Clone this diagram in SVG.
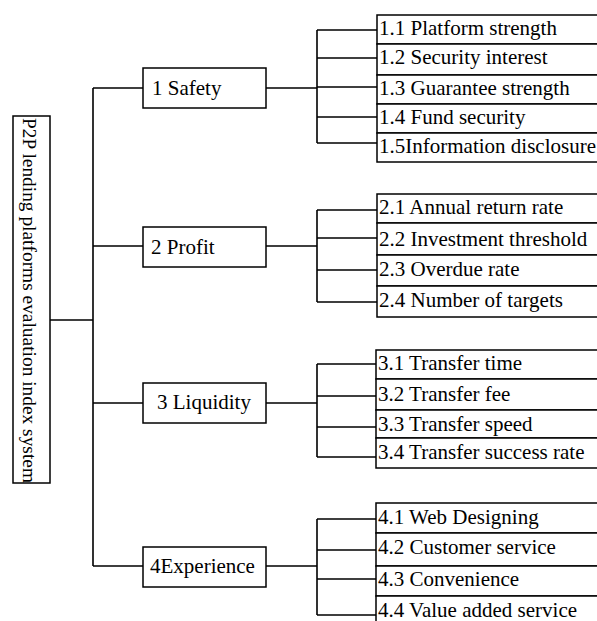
<svg xmlns="http://www.w3.org/2000/svg" width="597" height="621" viewBox="0 0 597 621">
<style>
.box{fill:#fff;stroke:#000;stroke-width:1.5}
.ln{fill:none;stroke:#000;stroke-width:1.6}
text{font-family:"Liberation Serif","Times New Roman",serif;font-size:21px;fill:#000}
.rt{font-size:19.4px}
</style>
<rect width="597" height="621" fill="#fff"/>
<g id="connectors" class="ln">
<path d="M50 320H93M93 88V566M93 88H143M93 246H143M93 403H143M93 566H143"/>
<path d="M266 88H317M317 30V143M317 30H378M317 58H378M317 87H378M317 117H378M317 143H378"/>
<path d="M266 246H317M317 210V302M317 210H378M317 238H378M317 270H378M317 302H378"/>
<path d="M266 403H317M317 364V457M317 364H378M317 396H378M317 427H378M317 457H378"/>
<path d="M266 566H317M317 519V615M317 519H378M317 550H378M317 579H378M317 615H378"/>
</g>
<g id="root">
<rect class="box" x="13" y="116" width="37" height="367"/>
<text class="rt" transform="translate(23,118) rotate(90)">P2P lending platforms evaluation index system</text>
</g>
<g id="c1"><rect class="box" x="143" y="68" width="123" height="40"/><text x="152" y="95">1 Safety</text></g>
<g id="c2"><rect class="box" x="143" y="227" width="123" height="40"/><text x="151" y="254">2 Profit</text></g>
<g id="c3"><rect class="box" x="143" y="383" width="123" height="40"/><text x="157" y="409">3 Liquidity</text></g>
<g id="c4"><rect class="box" x="143" y="547" width="123" height="40"/><text x="150" y="573">4Experience</text></g>
<g id="s1">
<rect class="box" x="377" y="15" width="240" height="29"/><text x="379" y="35">1.1 Platform strength</text>
<rect class="box" x="377" y="44" width="240" height="31"/><text x="379" y="64">1.2 Security interest</text>
<rect class="box" x="377" y="75" width="240" height="29"/><text x="379" y="95">1.3 Guarantee strength</text>
<rect class="box" x="377" y="104" width="240" height="29"/><text x="379" y="124">1.4 Fund security</text>
<rect class="box" x="377" y="133" width="240" height="29"/><text x="379" y="153">1.5Information disclosure</text>
</g>
<g id="s2">
<rect class="box" x="377" y="194" width="240" height="29"/><text x="379" y="214">2.1 Annual return rate</text>
<rect class="box" x="377" y="223" width="240" height="32"/><text x="379" y="246">2.2 Investment threshold</text>
<rect class="box" x="377" y="255" width="240" height="31"/><text x="379" y="276">2.3 Overdue rate</text>
<rect class="box" x="377" y="286" width="240" height="31"/><text x="379" y="307">2.4 Number of targets</text>
</g>
<g id="s3">
<rect class="box" x="376" y="350" width="240" height="29"/><text x="378" y="370">3.1 Transfer time</text>
<rect class="box" x="376" y="379" width="240" height="31"/><text x="378" y="401">3.2 Transfer fee</text>
<rect class="box" x="376" y="410" width="240" height="28"/><text x="378" y="431">3.3 Transfer speed</text>
<rect class="box" x="376" y="438" width="240" height="30"/><text x="378" y="459">3.4 Transfer success rate</text>
</g>
<g id="s4">
<rect class="box" x="376" y="503" width="240" height="30"/><text x="378" y="524">4.1 Web Designing</text>
<rect class="box" x="376" y="533" width="240" height="33"/><text x="378" y="554">4.2 Customer service</text>
<rect class="box" x="376" y="566" width="240" height="30"/><text x="378" y="586">4.3 Convenience</text>
<rect class="box" x="376" y="596" width="240" height="32"/><text x="378" y="617">4.4 Value added service</text>
</g>
</svg>
